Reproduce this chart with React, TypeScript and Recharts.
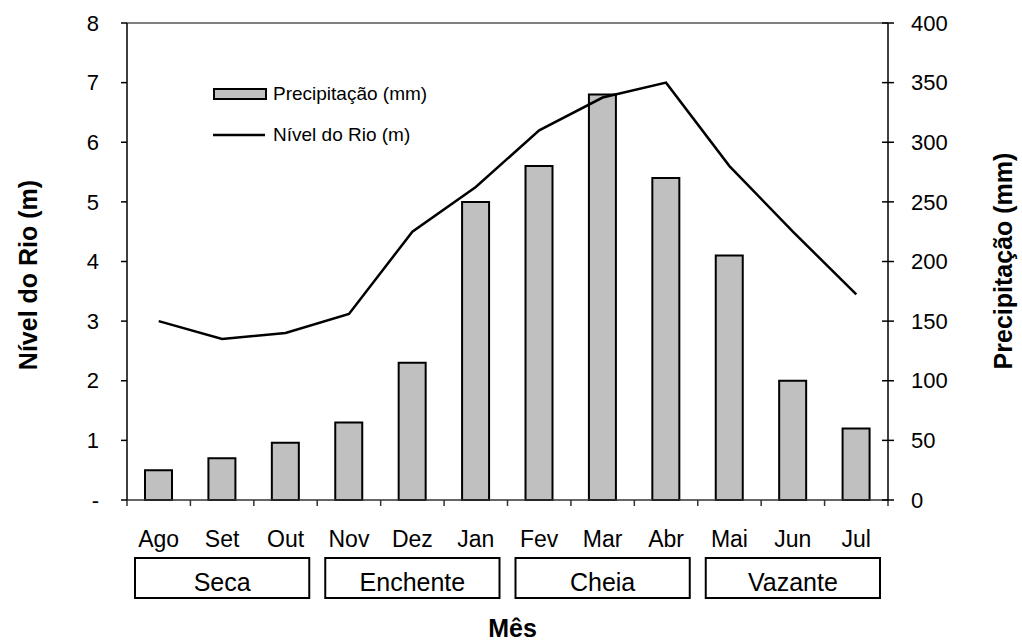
import React from 'react';
import { ComposedChart, Bar, Line, XAxis, YAxis, ReferenceLine, Legend, Label } from 'recharts';

const months = ['Ago', 'Set', 'Out', 'Nov', 'Dez', 'Jan', 'Fev', 'Mar', 'Abr', 'Mai', 'Jun', 'Jul'];
const precipitation = [25, 35, 48, 65, 115, 250, 280, 340, 270, 205, 100, 60];
const riverLevel = [3.0, 2.7, 2.8, 3.12, 4.5, 5.25, 6.2, 6.75, 7.0, 5.6, 4.5, 3.45];
const seasons = ['Seca', 'Enchente', 'Cheia', 'Vazante'];
const leftTicks = [0, 1, 2, 3, 4, 5, 6, 7, 8];
const rightTicks = [0, 50, 100, 150, 200, 250, 300, 350, 400];

const data = months.map((m, i) => ({ month: m, precip: precipitation[i], level: riverLevel[i] }));

const W = 1022;
const H = 641;
const MARGIN = { top: 23, left: 0, right: 0, bottom: 0 };
const LEFT_W = 127;
const RIGHT_W = 134;
const XAXIS_H = 141;
const PLOT_W = W - LEFT_W - RIGHT_W;
const BAND = PLOT_W / months.length;
const FONT = 'Liberation Sans, Arial, Helvetica, sans-serif';

const MonthTick = (props: any) => {
  const { x, y, payload, index } = props;
  const left = x - BAND / 2;
  const boxLeft = left + 8;
  const boxW = 3 * BAND - 16;
  return (
    <g>
      <line x1={left} y1={y} x2={left} y2={y + 6} stroke="#333" strokeWidth={1.5} />
      {index === months.length - 1 && (
        <line x1={x + BAND / 2} y1={y} x2={x + BAND / 2} y2={y + 6} stroke="#333" strokeWidth={1.5} />
      )}
      <text x={x} y={y + 47} textAnchor="middle" fontSize={23} fontFamily={FONT} fill="#000">
        {payload.value}
      </text>
      {index % 3 === 0 && (
        <g>
          <rect x={boxLeft} y={y + 58} width={boxW} height={40} fill="#fff" stroke="#000" strokeWidth={2} />
          <text x={boxLeft + boxW / 2} y={y + 91} textAnchor="middle" fontSize={25} fontFamily={FONT} fill="#000">
            {seasons[index / 3]}
          </text>
        </g>
      )}
    </g>
  );
};

const LeftTick = (props: any) => {
  const { x, y, payload } = props;
  return (
    <g>
      <line x1={x - 6} y1={y} x2={x} y2={y} stroke="#000" strokeWidth={1.5} />
      <text x={x - 28} y={y} dy="0.35em" textAnchor="end" fontSize={22} fontFamily={FONT} fill="#000">
        {payload.value === 0 ? '-' : payload.value}
      </text>
    </g>
  );
};

const RightTick = (props: any) => {
  const { x, y, payload } = props;
  return (
    <g>
      <line x1={x - 6} y1={y} x2={x + 6} y2={y} stroke="#000" strokeWidth={1.5} />
      <text x={x + 23} y={y} dy="0.35em" textAnchor="start" fontSize={22} fontFamily={FONT} fill="#000">
        {payload.value}
      </text>
    </g>
  );
};

const LegendContent = () => (
  <div style={{ fontFamily: FONT, fontSize: 19, color: '#000', width: 260 }}>
    <div style={{ display: 'flex', alignItems: 'center', height: 22 }}>
      <svg width={60} height={22}>
        <rect x={1} y={6} width={52} height={10} fill="#c0c0c0" stroke="#000" strokeWidth={2} />
      </svg>
      <span>Precipitação (mm)</span>
    </div>
    <div style={{ display: 'flex', alignItems: 'center', height: 22, marginTop: 19 }}>
      <svg width={60} height={22}>
        <line x1={0} y1={11} x2={52} y2={11} stroke="#000" strokeWidth={2.5} />
      </svg>
      <span>Nível do Rio (m)</span>
    </div>
  </div>
);

export default function App() {
  return (
    <div style={{ position: 'absolute', left: 0, top: 0, width: W, height: H, background: '#fff' }}>
      <ComposedChart width={W} height={H} data={data} margin={MARGIN} style={{ fontFamily: FONT }}>
        <XAxis
          dataKey="month"
          xAxisId="x"
          height={XAXIS_H}
          interval={0}
          tickLine={false}
          tickSize={0}
          tickMargin={0}
          axisLine={{ stroke: '#333', strokeWidth: 1.5 }}
          tick={<MonthTick />}
        >
          <Label
            content={(p: any) => {
              const vb = p.viewBox || { x: LEFT_W, width: PLOT_W, y: 500 };
              return (
                <text x={vb.x + vb.width / 2 + 5} y={637} textAnchor="middle" fontSize={25} fontWeight="bold" fontFamily={FONT} fill="#000">
                  Mês
                </text>
              );
            }}
          />
        </XAxis>
        <YAxis
          yAxisId="left"
          orientation="left"
          width={LEFT_W}
          domain={[0, 8]}
          ticks={leftTicks}
          interval={0}
          tickLine={false}
          tickSize={0}
          tickMargin={0}
          axisLine={{ stroke: '#000', strokeWidth: 1.5 }}
          tick={<LeftTick />}
        >
          <Label
            content={() => (
              <text x={37} y={275} transform="rotate(-90, 37, 275)" textAnchor="middle" fontSize={25} fontWeight="bold" fontFamily={FONT} fill="#000">
                Nível do Rio (m)
              </text>
            )}
          />
        </YAxis>
        <YAxis
          yAxisId="right"
          orientation="right"
          width={RIGHT_W}
          domain={[0, 400]}
          ticks={rightTicks}
          interval={0}
          tickLine={false}
          tickSize={0}
          tickMargin={0}
          axisLine={{ stroke: '#000', strokeWidth: 1.5 }}
          tick={<RightTick />}
        >
          <Label
            content={() => (
              <text x={1012} y={261} transform="rotate(-90, 1012, 261)" textAnchor="middle" fontSize={25} fontWeight="bold" fontFamily={FONT} fill="#000">
                Precipitação (mm)
              </text>
            )}
          />
        </YAxis>
        <ReferenceLine yAxisId="left" xAxisId="x" y={8} stroke="#808080" strokeWidth={2} />
        <Legend
          layout="horizontal"
          verticalAlign="middle"
          align="center"
          content={<LegendContent />}
          wrapperStyle={{ position: 'absolute', left: 213, top: 83, width: 260 }}
        />
        <Bar
          xAxisId="x"
          yAxisId="right"
          dataKey="precip"
          name="Precipitação (mm)"
          fill="#c0c0c0"
          stroke="#000"
          strokeWidth={2}
          barSize={27}
          isAnimationActive={false}
        />
        <Line
          xAxisId="x"
          yAxisId="left"
          dataKey="level"
          name="Nível do Rio (m)"
          type="linear"
          stroke="#000"
          strokeWidth={2.5}
          dot={false}
          activeDot={false}
          isAnimationActive={false}
        />
      </ComposedChart>
    </div>
  );
}
